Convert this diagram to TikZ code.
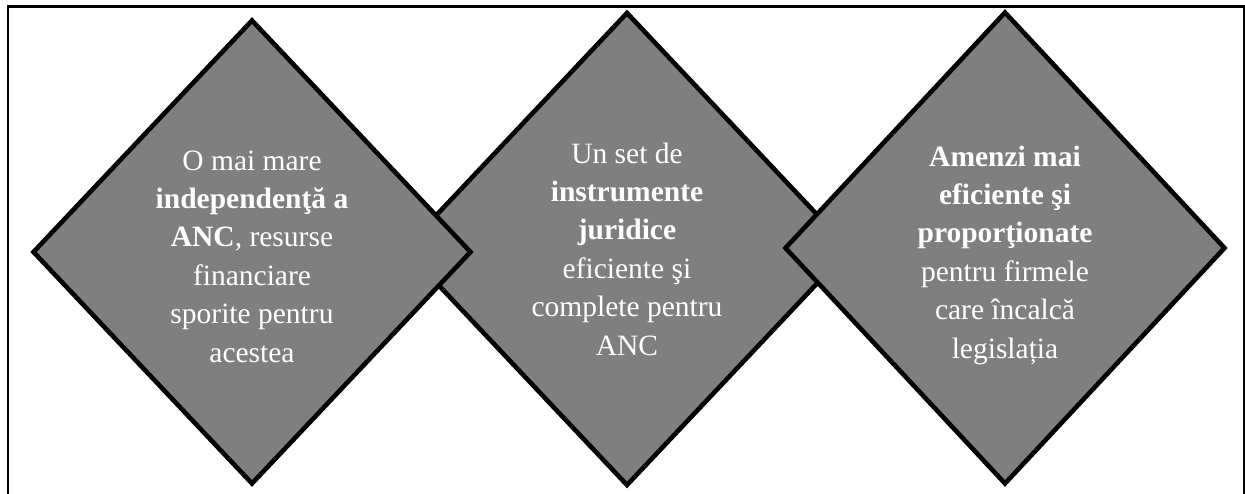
\documentclass[tikz,border=0pt]{standalone}
\usepackage{fontspec}
\setmainfont{Liberation Serif}
\usetikzlibrary{shapes.geometric}
\definecolor{dgray}{HTML}{7F7F7F}
\begin{document}
\begin{tikzpicture}[x=1pt,y=-1pt,
  dia/.style={diamond,draw=black,fill=dgray,line width=4.6pt,inner sep=0pt,outer sep=0pt,miter limit=10},
  lbl/.style={text=white,align=center,inner sep=0pt,font=\fontsize{29.5}{38.4}\selectfont}]
\useasboundingbox (0,0) rectangle (1245,493);
\fill[white] (0,0) rectangle (1245,493);
% frame
\draw[line width=2.2pt] (8,494) -- (8,6.5) -- (1244,6.5) -- (1244,494);
% diamonds (middle first, outer ones on top)
\node[dia,minimum width=445pt,minimum height=472pt] (d2) at (627,249) {};
\node[dia,minimum width=437pt,minimum height=463pt] (d1) at (252,252) {};
\node[dia,minimum width=439pt,minimum height=471pt] (d3) at (1005,248) {};
% texts
\node[lbl] (t1) at (252,256.5) {O mai mare\\\textbf{independenţă a}\\\textbf{ANC}, resurse\\financiare\\sporite pentru\\acestea};
\node[lbl] (t2) at (627,249) {Un set de\\\textbf{instrumente}\\\textbf{juridice}\\eficiente şi\\complete pentru\\ANC};
\node[lbl] (t3) at (1005,255) {\textbf{Amenzi mai}\\\textbf{eficiente şi}\\\textbf{proporţionate}\\pentru firmele\\care încalcă\\legislația};
\end{tikzpicture}
\end{document}
